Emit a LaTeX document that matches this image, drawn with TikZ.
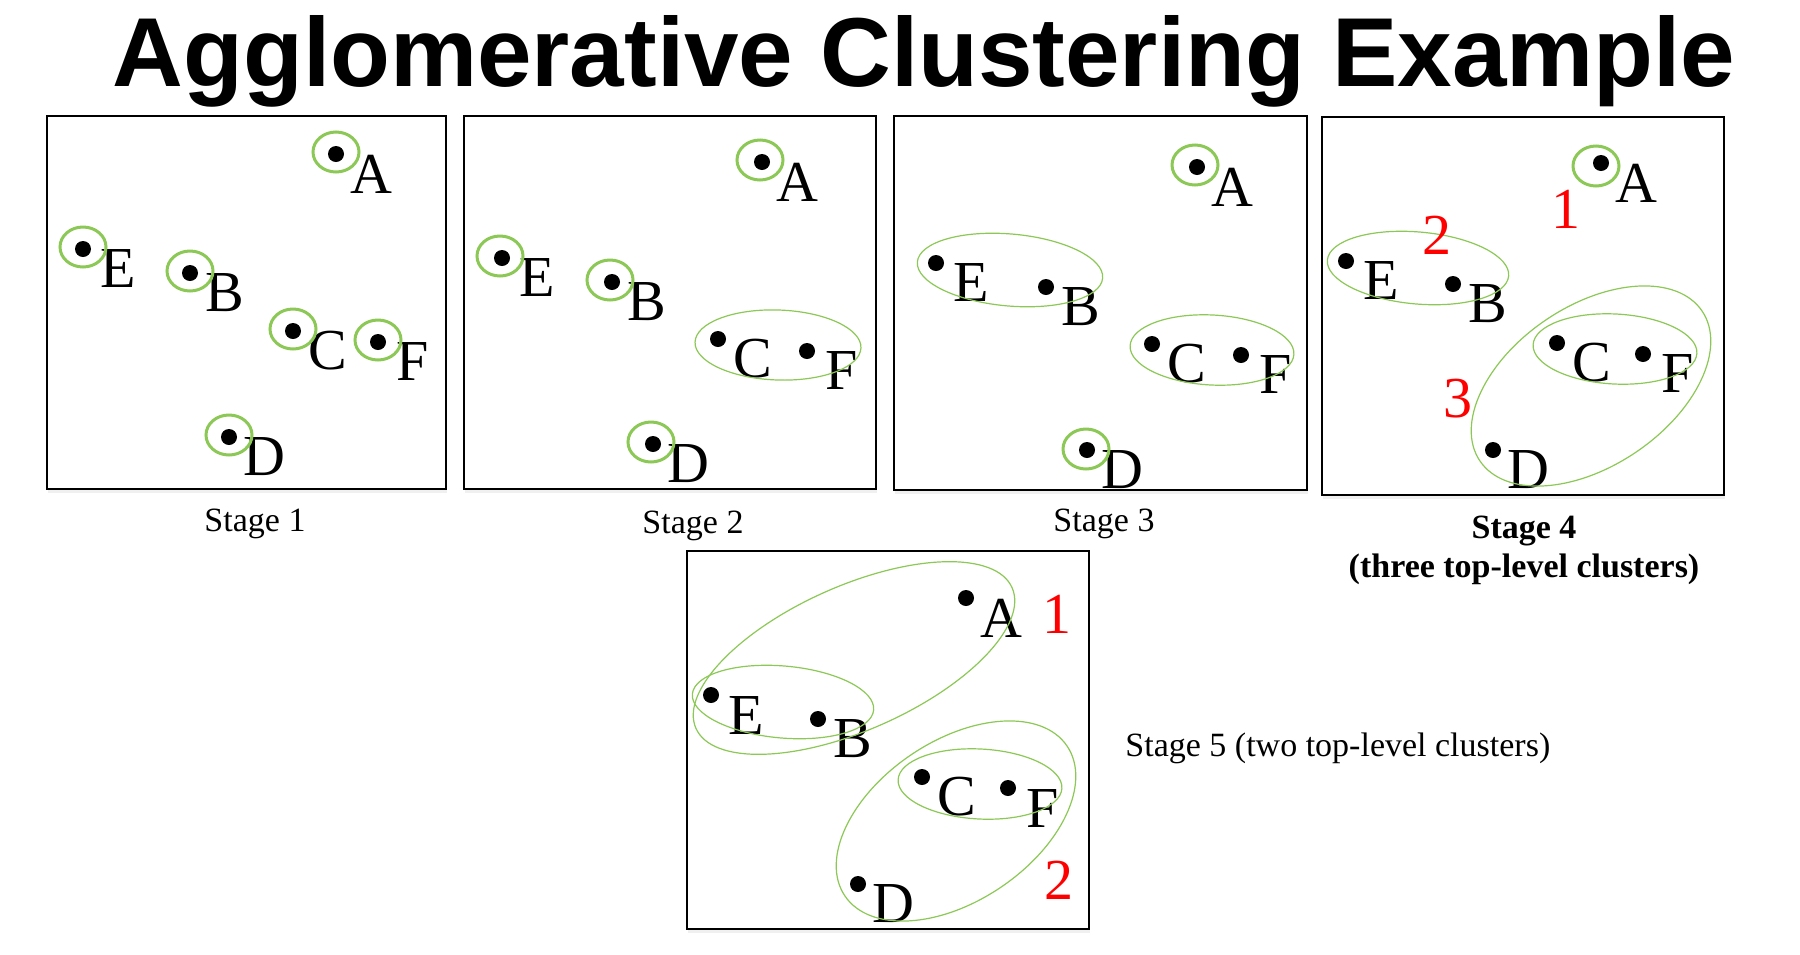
\documentclass[tikz,border=0pt]{standalone}
\usepackage{fontspec}
\setmainfont{Liberation Serif}
\newfontfamily\titlefont{Liberation Sans}
\usepackage{xcolor}
\usetikzlibrary{shadows}
\definecolor{ringgreen}{RGB}{140,200,85}

\begin{document}
\begin{tikzpicture}[
    x=0.5pt, y=-0.5pt,
    panel/.style={draw, line width=1pt, fill=white,
                  drop shadow={shadow xshift=0.5pt, shadow yshift=-2pt, opacity=0.12}},
    pt/.style={circle, fill=black, inner sep=0pt, minimum size=8pt},
    glyph/.style={inner sep=0pt, font=\fontsize{29}{29}\selectfont},
    lbl/.style={glyph, shift={(35,20)}},
    num/.style={glyph, text=red},
    ring/.style={draw=ringgreen, line width=1.5pt},
    clus/.style={draw=ringgreen, line width=0.6pt},
    stagecap/.style={anchor=base, inner sep=0pt, font=\fontsize{17}{20}\selectfont}
]
\useasboundingbox (0,0) rectangle (1800,954);

\node[anchor=base, font=\titlefont\bfseries\fontsize{49}{49}\selectfont] (title)
     at (924,86) {Agglomerative Clustering Example};

% Panels
\draw[panel] (47,116) rectangle (446,489);
\draw[panel] (464,116) rectangle (876,489);
\draw[panel] (894,116) rectangle (1307,490);
\draw[panel] (1322,117) rectangle (1724,495);
\draw[panel] (687,551) rectangle (1089,929);

% Stage 1: six singletons
\node[pt] (a1) at (336,154) {}; \node[lbl] (la1) at (a1) {A};
\node[pt] (e1) at (83,249)  {}; \node[lbl] (le1) at (e1) {E};
\node[pt] (b1) at (190,273) {}; \node[lbl] (lb1) at (b1) {B};
\node[pt] (c1) at (293,331) {}; \node[lbl] (lc1) at (c1) {C};
\node[pt] (f1) at (378,342) {}; \node[lbl] (lf1) at (f1) {F};
\node[pt] (d1) at (229,437) {}; \node[lbl] (ld1) at (d1) {D};
\draw[ring] (a1) ++(0,-2) ellipse [x radius=23, y radius=20];
\draw[ring] (e1) ++(0,-2) ellipse [x radius=23, y radius=20];
\draw[ring] (b1) ++(0,-2) ellipse [x radius=23, y radius=20];
\draw[ring] (c1) ++(0,-2) ellipse [x radius=23, y radius=20];
\draw[ring] (f1) ++(0,-2) ellipse [x radius=23, y radius=20];
\draw[ring] (d1) ++(0,-2) ellipse [x radius=23, y radius=20];
\node[stagecap] (cap1) at (255,531) {Stage 1};

% Stage 2: C and F merged
\node[pt] (a2) at (762,162) {}; \node[lbl] (la2) at (a2) {A};
\node[pt] (e2) at (502,258) {}; \node[lbl] (le2) at (e2) {E};
\node[pt] (b2) at (612,282) {}; \node[lbl] (lb2) at (b2) {B};
\node[pt] (c2) at (718,339) {}; \node[lbl] (lc2) at (c2) {C};
\node[pt] (f2) at (807,351) {}; \node[lbl] (lf2) at (f2) {F};
\node[pt] (d2) at (653,444) {}; \node[lbl] (ld2) at (d2) {D};
\draw[ring] (a2) ++(-2,-2) ellipse [x radius=23, y radius=20];
\draw[ring] (e2) ++(-2,-2) ellipse [x radius=23, y radius=20];
\draw[ring] (b2) ++(-2,-2) ellipse [x radius=23, y radius=20];
\draw[ring] (d2) ++(-2,-2) ellipse [x radius=23, y radius=20];
\draw[clus] (778,345) ellipse [x radius=83, y radius=35, rotate=-2];
\node[stagecap] (cap2) at (693,533) {Stage 2};

% Stage 3: E and B merged
\node[pt] (a3) at (1197,167) {}; \node[lbl] (la3) at (a3) {A};
\node[pt] (e3) at (936,263)  {}; \node[lbl] (le3) at (e3) {E};
\node[pt] (b3) at (1046,287) {}; \node[lbl] (lb3) at (b3) {B};
\node[pt] (c3) at (1152,344) {}; \node[lbl] (lc3) at (c3) {C};
\node[pt] (f3) at (1241,355) {}; \node[lbl] (lf3) at (f3) {F};
\node[pt] (d3) at (1087,450) {}; \node[lbl] (ld3) at (d3) {D};
\draw[ring] (a3) ++(-2,-2) ellipse [x radius=23, y radius=20];
\draw[ring] (d3) ++(-1,-1) ellipse [x radius=23, y radius=20];
\draw[clus] (1010,270) ellipse [x radius=93, y radius=36, rotate=-5];
\draw[clus] (1212,350) ellipse [x radius=82, y radius=35, rotate=-3];
\node[stagecap] (cap3) at (1104,531) {Stage 3};

% Stage 4: D joins CF
\node[pt] (a4) at (1601,163) {}; \node[lbl] (la4) at (a4) {A};
\node[pt] (e4) at (1346,261) {}; \node[lbl] (le4) at (e4) {E};
\node[pt] (b4) at (1453,284) {}; \node[lbl] (lb4) at (b4) {B};
\node[pt] (c4) at (1557,343) {}; \node[lbl] (lc4) at (c4) {C};
\node[pt] (f4) at (1643,354) {}; \node[lbl] (lf4) at (f4) {F};
\node[pt] (d4) at (1493,450) {}; \node[lbl] (ld4) at (d4) {D};
\draw[ring] (1596,166) ellipse [x radius=23, y radius=20];
\draw[clus] (1418,268) ellipse [x radius=91, y radius=36, rotate=-5];
\draw[clus] (1615,349) ellipse [x radius=82, y radius=35, rotate=-3];
\draw[clus] (1591,386) ellipse [x radius=134, y radius=80, rotate=34];
\node[num] (n41) at (1566,209) {1};
\node[num] (n42) at (1437,235) {2};
\node[num] (n43) at (1458,399) {3};
\node[stagecap, font=\fontsize{17}{20}\selectfont\bfseries] (cap4) at (1524,538) {Stage 4};
\node[stagecap, font=\fontsize{17}{20}\selectfont\bfseries] (cap4b) at (1524,577) {(three top-level clusters)};

% Stage 5: A joins EB
\node[pt] (a5) at (966,598) {}; \node[lbl] (la5) at (a5) {A};
\node[pt] (e5) at (711,695) {}; \node[lbl] (le5) at (e5) {E};
\node[pt] (b5) at (818,719) {}; \node[lbl] (lb5) at (b5) {B};
\node[pt] (c5) at (922,777) {}; \node[lbl] (lc5) at (c5) {C};
\node[pt] (f5) at (1008,788) {}; \node[lbl] (lf5) at (f5) {F};
\node[pt] (d5) at (858,884) {}; \node[lbl] (ld5) at (d5) {D};
\draw[clus] (783,702) ellipse [x radius=91, y radius=36, rotate=-5];
\draw[clus] (854,658) ellipse [x radius=173, y radius=72, rotate=24];
\draw[clus] (980,784) ellipse [x radius=82, y radius=35, rotate=-3];
\draw[clus] (956,821) ellipse [x radius=134, y radius=80, rotate=34];
\node[num] (n51) at (1057,614) {1};
\node[num] (n52) at (1059,880) {2};
\node[stagecap, anchor=base west] (cap5) at (1125,756) {Stage 5 (two top-level clusters)};
\end{tikzpicture}
\end{document}
